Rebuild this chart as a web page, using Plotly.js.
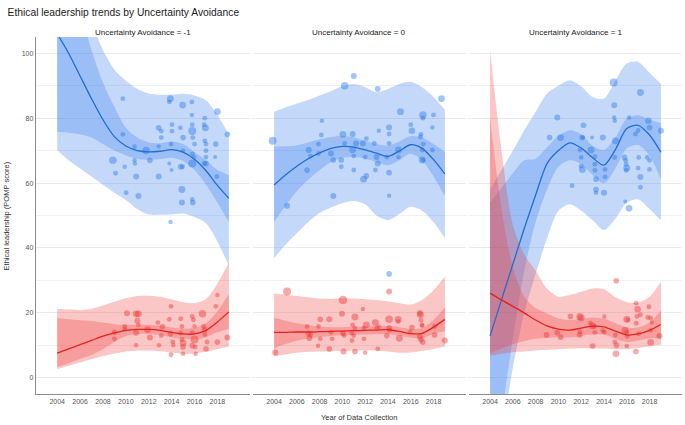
<!DOCTYPE html>
<html><head><meta charset="utf-8">
<script src="https://cdn.plot.ly/plotly-3.0.1.min.js"></script>
<style>html,body{margin:0;padding:0;background:#fff}#chart{width:685px;height:425px}</style>
</head><body><div id="chart"></div>
<script>
// ---------- DATA ----------
const panelLabels = ['Uncertainty Avoidance = -1', 'Uncertainty Avoidance = 0', 'Uncertainty Avoidance = 1'];
const years = [2004,2005,2006,2007,2008,2009,2010,2011,2012,2013,2014,2015,2016,2017,2018,2019];
const xTicks = [2004,2006,2008,2010,2012,2014,2016,2018];
const yTicks = [0,20,40,60,80,100];

// Panel UA = -1 (blue = high group, red = low group)
const p1BlueLine    = [106,100,93,86,79.5,74.3,71.4,70,69.6,69.8,70.3,69.5,67.3,63.8,59.3,55.3];
const p1BlueInnerHi = [136,125,113,101,91,83.5,77,74,72.5,72.3,72.8,72,69.5,67,64,62.5];
const p1BlueInnerLo = [75.8,75.5,75,74,72,70,68.5,67.5,67.2,67.4,67.8,66.8,64,59.5,54,48];
const p1BlueOuterHi = [150,140,125,110,101,95,91.5,89,87.6,87.2,87.2,87.5,87,85.5,81,75];
const p1BlueOuterLo = [70.2,67,64.5,62,59.5,57,54.8,52,50.3,50.2,50.3,50.6,49.5,47.6,42,34.5];
const p1RedLine     = [7.6,8.9,10.2,11.5,12.8,13.8,14.6,14.9,14.9,14.6,14,13.5,13.5,14.6,17.2,20.3];
const p1RedInnerHi  = [18.4,18,17.7,17.5,17,16.5,16.3,16.3,16.3,16,15.5,15.1,15.3,16.8,20.5,25.8];
const p1RedInnerLo  = [3.3,4.5,5.8,7,8.8,11,12.9,13.5,13.5,13.2,12.5,12,11.8,12.5,14,15];
const p1RedOuterHi  = [21.3,21,20.9,21.3,22.3,23.4,24.5,25.2,25.3,25,24.2,23.3,23,24.3,29,35.5];
const p1RedOuterLo  = [2.7,3.7,4.7,5.7,6.7,7.5,8.1,8.4,8.4,8.2,7.8,7.4,7.5,8.1,8.8,9.6];

// Panel UA = 0
const p2BlueLine    = [59.4,62.5,65.2,67.5,69.3,70.7,71.3,71.1,70.2,69.2,68.2,69.9,71.8,70.7,67.2,62.8];
const p2BlueInnerHi = [71.2,71.3,71.6,72.5,73.5,74.2,74.5,74.1,73,72,71.5,72.8,74.5,74,72,69.6];
const p2BlueInnerLo = [48,53,57.5,61,64,66.5,67.8,68,67.5,66.5,65.5,67,69,67,62,56];
const p2BlueOuterHi = [82,83.3,84.5,85.6,87,88.3,89.8,90.5,89.5,88,89,90.5,91.2,89.5,86.5,82.5];
const p2BlueOuterLo = [36.8,41,44.5,48,50.8,52.5,53.8,54.5,53.5,50,48.6,50.5,52.7,51.5,48,43];
const p2RedLine     = [14,14,14.1,14.1,14.2,14.3,14.4,14.5,14.6,14.7,14.8,14.3,13.6,13.7,15.6,18];
const p2RedInnerHi  = [18.5,17.6,16.8,16.2,15.8,15.6,15.6,15.7,15.8,15.9,16,15.6,15,15.3,17.8,21.7];
const p2RedInnerLo  = [9.1,10.4,11.4,12.1,12.6,12.9,13.1,13.2,13.3,13.4,13.5,13,12.3,12.2,13.6,14.3];
const p2RedOuterHi  = [26,25.6,25.2,24.8,24.4,24.3,24.5,24.4,24.2,24,23.6,23,22.6,24,27,31.2];
const p2RedOuterLo  = [6.6,7.2,7.7,8,8.1,8.2,8.3,8.4,8.5,8.4,8.1,7.7,7.8,8.3,8.9,9.6];

// Panel UA = 1
const p3BlueLine    = [12.9,24,35,46,56.3,66,70,72.4,70.8,67.8,65.5,70.3,76.8,77.8,74.8,69.5];
const p3BlueInnerHi = [54,58.5,63,67,67.5,71,74.5,76.3,75,71.5,70.2,74,79.9,80.9,79.4,78.5];
const p3BlueInnerLo = [-40,-12,12,33,48,58,65,67,65.8,62.5,59.9,64.5,70.7,71.7,68.5,61];
const p3BlueOuterHi = [58,64,70,76.3,82,87.6,90,91.7,89.8,86.5,86,91.5,96.8,97.3,94,90.5];
const p3BlueOuterLo = [-60,-20,3,20,32,43,51.5,53.5,51.5,48.5,45.5,49,54,55,52,48.5];
const p3RedLine     = [26.1,24,22,20,17.8,16,15,14.7,15.3,15.9,15.7,14.4,13.2,13.5,14.6,16.4];
const p3RedInnerHi  = [80,52,34,25,21.5,19.8,18.3,17.8,18.2,18.5,18.2,16.8,15.5,15.5,17,20.8];
const p3RedInnerLo  = [7.5,9,10.3,11.3,12,12.3,12.5,12.4,12.9,13.3,13.3,12,11,11.5,12.2,12.2];
const p3RedOuterHi  = [101,70,47,38,33,27.5,25,25.5,26.5,27.5,27.3,24.8,23.3,23.2,25,29.6];
const p3RedOuterLo  = [6.8,7.4,7.9,8.1,8.4,8.6,8.8,9,9.1,9.1,9,8.8,8.8,9.2,9.7,10.2];

// Study points: [year, POMP score, sample weight n]
const p1BluePts = [[2009.74,86,6],[2009.74,75,6],[2008.87,67,14],[2009.1,63,6],[2009.9,65,5],[2010.76,71.2,6],[2010.76,67,5],[2010.8,66,5],[2010.9,62,9],[2010.03,57,6],[2011.1,56,9],[2011.77,70,14],[2012.1,67,8],[2012.87,77,8],[2013.1,76,6],[2013.1,74,6],[2012.87,62,9],[2012.87,71.3,5],[2013.89,86,12],[2013.8,85,6],[2014.03,78,6],[2014.03,76,6],[2013.95,72,6],[2013.8,66,4],[2014.0,64,4],[2014.76,77,6],[2014.96,84,11],[2015.0,74,8],[2015.0,70,5],[2014.8,65,9],[2014.95,65,6],[2014.9,58,12],[2014.9,54,9],[2015.77,85,6],[2015.77,81,5],[2015.8,78,6],[2015.8,76,16],[2015.85,74,6],[2016.0,72,6],[2015.8,69,6],[2015.8,66,16],[2015.95,68,6],[2015.8,55,5],[2015.85,54,8],[2016.9,80,6],[2016.85,78,6],[2016.95,77,12],[2016.9,73,6],[2017.0,72,6],[2017.0,70,6],[2017.0,68,6],[2017.0,66,8],[2016.85,66,6],[2017.86,72,8],[2017.8,68,4],[2018.0,82,11],[2017.95,62,6],[2018.87,75,8],[2013.9,48,5]];
const p1RedPts = [[2009.0,14,8],[2009.0,12,6],[2009.9,15.8,6],[2010.1,19.9,9],[2009.9,14.9,6],[2010.9,13.9,9],[2010.9,19.7,12],[2011.1,19.7,12],[2010.9,10,5],[2011.0,17.6,9],[2011.1,16.3,6],[2011.9,14.8,12],[2012.1,12.4,9],[2012.8,17,6],[2012.9,10,5],[2013.2,15.7,8],[2013.1,13,6],[2013.8,18,6],[2013.95,22,6],[2013.9,13.6,8],[2013.95,7.1,6],[2014.1,11,6],[2014.15,10,5],[2014.8,18.2,6],[2014.9,15.8,6],[2014.8,13.8,6],[2014.9,11.8,6],[2015.0,9.5,8],[2015.0,7.4,5],[2015.0,10.7,12],[2015.8,18.9,6],[2015.9,17.9,6],[2016.0,15.9,5],[2015.8,13.9,6],[2016.0,11.8,16],[2015.8,9.9,8],[2016.05,9.5,6],[2016.1,7.4,5],[2016.7,19.7,14],[2016.8,15.8,6],[2016.9,14.8,8],[2016.9,13.3,6],[2017.0,8.9,8],[2017.1,11,6],[2017.86,22,6],[2018.0,25.5,5],[2018.0,11,8],[2018.87,12.4,9]];
const p2BluePts = [[2003.88,73,16],[2005.14,53,9],[2006.9,64,8],[2007.04,70.2,9],[2007.2,68.3,6],[2007.9,69.1,6],[2008.15,74.8,6],[2008.2,79.2,5],[2007.9,72,6],[2009.0,69.1,9],[2009.2,56,9],[2009.2,67.1,8],[2009.9,65,6],[2009.9,67.1,8],[2010.05,75,12],[2010.2,90,14],[2010.2,72.2,6],[2010.9,75.1,9],[2010.9,70.2,11],[2011.0,68.3,6],[2011.0,93,9],[2011.0,64,6],[2011.2,72.2,9],[2011.8,72.2,9],[2011.86,61.2,12],[2012.1,73.7,6],[2012.1,62.2,8],[2012.0,68,6],[2012.8,72.2,6],[2012.9,64,6],[2013.0,68,9],[2013.1,66,9],[2013.2,76.1,5],[2013.1,89,8],[2014.1,77.1,9],[2014.1,75.1,6],[2014.1,72.2,6],[2014.1,63.2,8],[2014.1,56.1,5],[2013.9,68,6],[2014.93,70.2,12],[2014.93,68,6],[2015.1,82,12],[2016.0,78,6],[2016.1,76.1,11],[2016.86,74.2,6],[2016.9,75,6],[2017.07,81,14],[2017.07,80,6],[2017.1,72,6],[2017.0,70.2,6],[2017.0,67.1,12],[2017.1,67,6],[2018.0,81,6],[2017.9,77.1,5],[2017.9,70.2,6],[2018.7,86,11],[2014.1,32,8]];
const p2RedPts = [[2004.1,7.8,9],[2005.14,26.6,16],[2006.9,15.8,6],[2007.0,13.7,8],[2007.1,12.2,8],[2007.2,13.2,6],[2007.86,9.9,5],[2007.9,15.8,6],[2008.06,18,8],[2008.06,12,6],[2008.85,18,9],[2008.85,8.9,8],[2009.0,14,6],[2009.1,12,6],[2009.96,19.7,9],[2010.05,24,18],[2010.1,8.1,9],[2010.05,13.7,8],[2010.15,13,6],[2010.84,13.7,6],[2010.84,11.5,6],[2010.9,16.3,6],[2011.1,18.7,12],[2011.1,8.1,8],[2011.0,13,6],[2011.1,15.3,6],[2011.8,21.2,5],[2011.9,15.3,6],[2011.9,12,6],[2012.0,7.8,5],[2012.1,16.3,12],[2012.9,17,12],[2013.0,15.3,6],[2013.1,8.9,6],[2013.2,15.7,6],[2013.9,13,8],[2014.1,15.3,8],[2014.1,18,14],[2014.1,26.6,9],[2014.15,14.6,6],[2014.9,18,12],[2014.9,17.3,6],[2015.0,12.2,12],[2016.1,15.5,8],[2015.95,14,5],[2016.8,19.9,9],[2016.85,19.4,12],[2016.9,17.7,6],[2017.0,16.3,6],[2016.8,12.7,8],[2016.9,11.8,8],[2017.05,11,8],[2017.0,16,5],[2018.1,15.8,6],[2018.1,13.2,8],[2019.0,11.5,9]];
const p3BluePts = [[2009.22,74,8],[2009.9,80.2,9],[2010.2,74,12],[2011.2,59.2,6],[2012.08,74,8],[2012.2,77.8,8],[2011.9,70.2,6],[2012.0,67.9,6],[2012.0,65.2,6],[2012.1,64.2,12],[2012.15,74,4],[2012.87,70.2,12],[2012.95,74,4],[2013.2,68.1,6],[2013.2,65.8,6],[2013.2,63.9,6],[2013.3,61.2,8],[2013.3,58,8],[2013.3,57,5],[2014.0,57,9],[2013.9,74,9],[2014.1,64.2,6],[2014.1,61.9,6],[2014.85,91,16],[2014.9,84,9],[2014.9,80.2,5],[2014.95,79.2,5],[2015.0,73,12],[2014.95,67.9,6],[2015.8,67.9,8],[2015.9,67,6],[2015.95,65.8,6],[2016.0,64.6,12],[2015.95,63.9,6],[2016.2,80.2,5],[2016.76,75.1,6],[2017.0,76.2,6],[2017.0,64.6,6],[2017.05,67.9,6],[2017.2,87.9,12],[2017.2,61.9,9],[2017.2,58.7,6],[2017.8,67.9,6],[2017.9,79.2,11],[2018.0,77.1,8],[2018.0,67,6],[2018.0,64.2,6],[2019.0,76.1,9],[2015.87,54.3,4],[2016.2,52.2,11]];
const p3RedPts = [[2008.96,13.2,8],[2009.9,13.9,8],[2010.2,12.5,8],[2011.06,18.9,8],[2011.87,18.9,12],[2012.0,18.4,12],[2011.9,14.2,6],[2011.87,13.2,8],[2012.8,16.8,6],[2013.0,16,12],[2013.15,15.8,6],[2013.0,9.8,8],[2013.2,14,6],[2014.03,18.9,5],[2013.9,14.6,6],[2014.03,14,6],[2015.08,29.9,8],[2015.0,13.2,6],[2014.95,11,6],[2015.1,10,8],[2015.05,7.4,11],[2015.85,14.6,12],[2016.0,18,12],[2016.1,17.8,6],[2016.0,14,6],[2016.05,12.8,6],[2016.0,9.8,5],[2016.83,23,6],[2016.95,21.1,11],[2016.9,18.9,6],[2016.83,16.8,6],[2017.05,13.6,6],[2016.8,8.1,8],[2017.2,19.4,6],[2017.95,21.9,6],[2017.85,18.6,6],[2018.1,18.4,6],[2018.2,17,5],[2018.1,14.6,6],[2018.1,10.9,11],[2018.87,12.9,9]];

// ---------- STYLE ----------
const BLUE = {line:'#1f6fd1', pt:'rgba(38,122,232,0.62)', band:'rgba(50,125,235,0.29)'};
const RED  = {line:'#e3231c', pt:'rgba(232,45,40,0.58)', band:'rgba(240,60,60,0.29)'};
const domains = [[0,0.3313],[0.3359,0.6656],[0.6703,1]];
const xRange = [2002.15, 2020.85];

const traces = [];
function band(ax, lo, hi, col){
  const xa = 'x'+(ax===1?'':ax), ya = 'y'+(ax===1?'':ax);
  traces.push({x:years, y:hi, xaxis:xa, yaxis:ya, mode:'lines', line:{width:0, shape:'spline', smoothing:0.8, color:'rgba(0,0,0,0)'}, hoverinfo:'skip'});
  traces.push({x:years, y:lo, xaxis:xa, yaxis:ya, mode:'lines', fill:'tonexty', fillcolor:col, line:{width:0, shape:'spline', smoothing:0.8, color:'rgba(0,0,0,0)'}, hoverinfo:'skip'});
}
function pts(ax, arr, col){
  const xa = 'x'+(ax===1?'':ax), ya = 'y'+(ax===1?'':ax);
  traces.push({x:arr.map(p=>p[0]), y:arr.map(p=>p[1]), xaxis:xa, yaxis:ya, mode:'markers',
    marker:{size:arr.map(p=>2*Math.sqrt(p[2])), color:col, line:{width:0}}, hoverinfo:'x+y'});
}
function ln(ax, arr, col){
  const xa = 'x'+(ax===1?'':ax), ya = 'y'+(ax===1?'':ax);
  traces.push({x:years, y:arr, xaxis:xa, yaxis:ya, mode:'lines', line:{width:1.3, color:col, shape:'spline', smoothing:0.8}});
}
const panels = [
  {b:[p1BlueLine,p1BlueInnerLo,p1BlueInnerHi,p1BlueOuterLo,p1BlueOuterHi,p1BluePts], r:[p1RedLine,p1RedInnerLo,p1RedInnerHi,p1RedOuterLo,p1RedOuterHi,p1RedPts]},
  {b:[p2BlueLine,p2BlueInnerLo,p2BlueInnerHi,p2BlueOuterLo,p2BlueOuterHi,p2BluePts], r:[p2RedLine,p2RedInnerLo,p2RedInnerHi,p2RedOuterLo,p2RedOuterHi,p2RedPts]},
  {b:[p3BlueLine,p3BlueInnerLo,p3BlueInnerHi,p3BlueOuterLo,p3BlueOuterHi,p3BluePts], r:[p3RedLine,p3RedInnerLo,p3RedInnerHi,p3RedOuterLo,p3RedOuterHi,p3RedPts]}
];
panels.forEach((p,i)=>{
  const ax = i+1;
  band(ax, p.b[3], p.b[4], BLUE.band);
  band(ax, p.b[1], p.b[2], BLUE.band);
  band(ax, p.r[3], p.r[4], RED.band);
  band(ax, p.r[1], p.r[2], RED.band);
  pts(ax, p.b[5], BLUE.pt);
  pts(ax, p.r[5], RED.pt);
  ln(ax, p.b[0], BLUE.line);
  ln(ax, p.r[0], RED.line);
});

const FONT = 'Liberation Sans, Arial, Helvetica, sans-serif';
function xax(i){
  return {domain:domains[i], range:xRange, tickvals:xTicks, ticktext:xTicks.map(String), anchor:(i===0?'y':'y'+(i+1)),
    showgrid:false, zeroline:false, showline:true, linecolor:'#8c8c8c', linewidth:1.2, ticks:'', ticklen:0,
    tickfont:{size:7, color:'#555', family:FONT}, fixedrange:true};
}
function yax(i){
  return {range:[-5,105], tickvals:yTicks, anchor:(i===0?'x':'x'+(i+1)), showgrid:true, gridcolor:'#e6e6e6', gridwidth:0.8,
    minor:{tickvals:[10,30,50,70,90], showgrid:true, gridcolor:'#ececec', gridwidth:0.8},
    zeroline:false, showline:i===0, linecolor:'#8c8c8c', linewidth:1.2, ticks:'', showticklabels:i===0,
    tickfont:{size:7, color:'#555', family:FONT}, fixedrange:true};
}
const annotations = panelLabels.map((t,i)=>({text:t, xref:'paper', yref:'paper', x:(domains[i][0]+domains[i][1])/2, y:1.014,
  xanchor:'center', yanchor:'middle', showarrow:false, font:{size:8, color:'#1a1a1a', family:FONT}}));
annotations.push({text:'Year of Data Collection', xref:'paper', yref:'paper', x:0.5, y:-0.067, xanchor:'center', yanchor:'middle',
  showarrow:false, font:{size:7.5, color:'#333', family:FONT}});
annotations.push({text:'Ethical leadership (POMP score)', xref:'paper', yref:'paper', x:-0.045, y:0.5, xanchor:'center', yanchor:'middle',
  textangle:-90, showarrow:false, font:{size:7.5, color:'#333', family:FONT}});

const layout = {
  width:685, height:425, margin:{l:36, r:3, t:37, b:31},
  paper_bgcolor:'#fff', plot_bgcolor:'#fff', showlegend:false,
  font:{family:FONT, color:'#333'},
  title:{text:'Ethical leadership trends by Uncertainty Avoidance', x:0.011, xanchor:'left', xref:'container',
    y:0.972, yref:'container', yanchor:'middle', font:{size:10.3, color:'#222', family:FONT}},
  xaxis:xax(0), xaxis2:xax(1), xaxis3:xax(2),
  yaxis:yax(0), yaxis2:yax(1), yaxis3:yax(2),
  annotations:annotations
};
Plotly.newPlot('chart', traces, layout, {displayModeBar:false, staticPlot:true});
</script></body></html>
